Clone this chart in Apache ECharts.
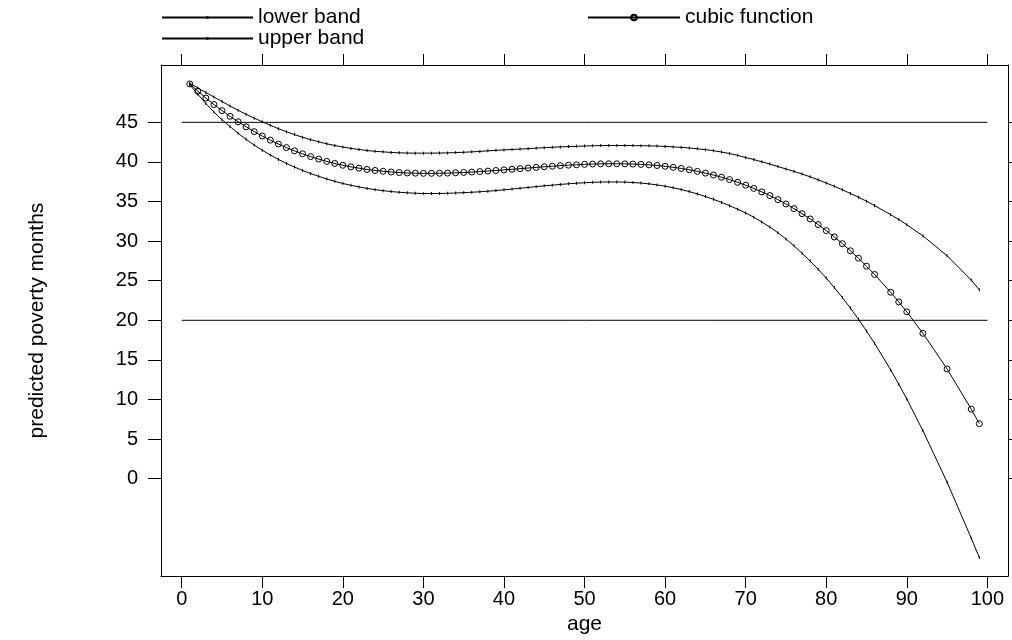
<!DOCTYPE html>
<html>
<head>
<meta charset="utf-8">
<script src="https://cdn.jsdelivr.net/npm/echarts@6/dist/echarts.min.js"></script>
<style>
html,body{margin:0;padding:0;background:#fff;}
#chart{width:1012px;height:640px;}
</style>
</head>
<body>
<div id="chart"></div>
<script>
// ---- data ----
var ages = [1,2,3,4,5,6,7,8,9,10,11,12,13,14,15,16,17,18,19,20,21,22,23,24,25,26,27,28,29,30,
  31,32,33,34,35,36,37,38,39,40,41,42,43,44,45,46,47,48,49,50,51,52,53,54,55,56,57,58,59,60,
  61,62,63,64,65,66,67,68,69,70,71,72,73,74,75,76,77,78,79,80,81,82,83,84,85,86,88,89,90,92,95,98,99];

var cubicFunction = [49.85,48.94,48.07,47.25,46.48,45.76,45.07,44.43,43.83,43.27,42.75,42.26,41.81,41.40,41.02,40.67,40.36,40.07,39.81,39.58,
  39.38,39.21,39.05,38.92,38.82,38.73,38.66,38.61,38.58,38.56,38.56,38.57,38.59,38.63,38.67,38.72,38.78,38.85,38.92,39.00,
  39.07,39.15,39.23,39.31,39.39,39.46,39.53,39.59,39.64,39.69,39.73,39.76,39.77,39.77,39.76,39.73,39.69,39.63,39.55,39.45,
  39.32,39.18,39.01,38.81,38.59,38.35,38.07,37.77,37.43,37.06,36.66,36.22,35.75,35.24,34.69,34.10,33.47,32.80,32.09,31.33,
  30.53,29.68,28.78,27.84,26.84,25.79,23.54,22.33,21.07,18.36,13.86,8.78,6.95];

var upperBand = [49.95,49.34,48.77,48.20,47.63,47.06,46.52,46.01,45.53,45.07,44.62,44.20,43.81,43.45,43.12,42.81,42.54,42.29,42.07,41.88,
  41.71,41.57,41.44,41.34,41.27,41.20,41.15,41.12,41.11,41.11,41.11,41.12,41.14,41.18,41.22,41.27,41.33,41.40,41.46,41.52,
  41.57,41.62,41.68,41.74,41.80,41.85,41.90,41.94,41.97,42.01,42.04,42.06,42.07,42.07,42.07,42.06,42.05,42.03,42.00,41.96,
  41.90,41.84,41.76,41.66,41.55,41.42,41.25,41.06,40.83,40.56,40.30,40.02,39.73,39.42,39.11,38.80,38.47,38.12,37.74,37.33,
  36.93,36.48,36.02,35.54,35.04,34.49,33.34,32.73,32.07,30.66,28.16,25.08,23.85];

var lowerBand = [49.75,48.54,47.37,46.30,45.33,44.46,43.62,42.85,42.13,41.47,40.88,40.32,39.81,39.35,38.92,38.53,38.18,37.85,37.55,37.28,
  37.05,36.85,36.66,36.50,36.37,36.26,36.17,36.10,36.05,36.01,36.01,36.02,36.04,36.08,36.12,36.17,36.23,36.30,36.38,36.48,
  36.57,36.68,36.78,36.88,36.98,37.07,37.16,37.24,37.31,37.37,37.42,37.46,37.47,37.47,37.45,37.40,37.33,37.23,37.10,36.94,
  36.74,36.52,36.26,35.96,35.63,35.28,34.89,34.48,34.03,33.56,33.02,32.42,31.77,31.06,30.27,29.40,28.47,27.48,26.44,25.33,
  24.13,22.88,21.54,20.14,18.64,17.09,13.74,11.93,10.07,6.06,-0.44,-7.52,-9.95];

var referenceLevels = [45, 20];
var referenceSpan = [0, 100];
var xTickValues = [0,10,20,30,40,50,60,70,80,90,100];
var yTickValues = [0,5,10,15,20,25,30,35,40,45];
var seriesNames = ['lower band', 'upper band', 'cubic function'];
var xTitle = 'age';
var yTitle = 'predicted poverty months';

// ---- chart ----
function pairs(xs, ys){ return xs.map(function(x,i){ return [x, ys[i]]; }); }

var FONT = "'Liberation Sans', Arial, sans-serif";
var X_MIN = -2.57, X_MAX = 102.56, Y_MIN = -12.3, Y_MAX = 52.24;
var ink = '#000';

var series = [
  { name: seriesNames[0], type: 'line', data: pairs(ages, lowerBand),
    symbol: 'rect', symbolSize: [1, 3], showAllSymbol: true,
    itemStyle: { color: ink }, lineStyle: { color: ink, width: 1 } },
  { name: seriesNames[1], type: 'line', data: pairs(ages, upperBand),
    symbol: 'rect', symbolSize: [1, 3], showAllSymbol: true,
    itemStyle: { color: ink }, lineStyle: { color: ink, width: 1 } },
  { name: seriesNames[2], type: 'line', data: pairs(ages, cubicFunction),
    symbol: 'circle', symbolSize: 6, showAllSymbol: true,
    itemStyle: { color: 'rgba(0,0,0,0)', borderColor: ink, borderWidth: 1 },
    lineStyle: { color: ink, width: 1 }, z: 3 }
];
referenceLevels.forEach(function(level, i){
  series.push({ name: 'ref' + i, type: 'line', symbol: 'none',
    data: referenceSpan.map(function(x){ return [x, level]; }),
    lineStyle: { color: ink, width: 1 }, z: 1 });
});

var chart = echarts.init(document.getElementById('chart'), null, { renderer: 'canvas' });
chart.setOption({
  animation: false,
  backgroundColor: '#fff',
  textStyle: { fontFamily: FONT, color: ink },
  grid: { left: 161, right: 4, top: 65, bottom: 61, containLabel: false },
  legend: [
    { data: [seriesNames[0], seriesNames[1]], orient: 'vertical', left: 161, top: 7, padding: 0,
      itemWidth: 91, itemHeight: 3, itemGap: 0, selectedMode: false,
      textStyle: { fontFamily: FONT, fontSize: 21, color: ink } },
    { data: [seriesNames[2]], orient: 'vertical', left: 587, top: 7, padding: 0,
      itemWidth: 92, itemHeight: 7, itemGap: 0, selectedMode: false,
      textStyle: { fontFamily: FONT, fontSize: 21, color: ink } }
  ],
  xAxis: [
    { type: 'value', position: 'bottom', min: X_MIN, max: X_MAX,
      name: xTitle, nameLocation: 'middle', nameGap: 25,
      nameTextStyle: { fontFamily: FONT, fontSize: 21, color: ink },
      axisLine: { show: true, onZero: false, lineStyle: { color: ink, width: 1 } },
      axisTick: { show: true, inside: false, length: 12, customValues: xTickValues, lineStyle: { color: ink } },
      axisLabel: { show: true, margin: 13, customValues: xTickValues, fontFamily: FONT, fontSize: 20, color: ink },
      splitLine: { show: false } },
    { type: 'value', position: 'top', min: X_MIN, max: X_MAX,
      axisLine: { show: true, onZero: false, lineStyle: { color: ink, width: 1 } },
      axisTick: { show: true, inside: false, length: 11, customValues: xTickValues, lineStyle: { color: ink } },
      axisLabel: { show: false },
      splitLine: { show: false } }
  ],
  yAxis: [
    { type: 'value', position: 'left', min: Y_MIN, max: Y_MAX,
      name: yTitle, nameLocation: 'middle', nameGap: 113,
      nameTextStyle: { fontFamily: FONT, fontSize: 21, color: ink },
      axisLine: { show: true, onZero: false, lineStyle: { color: ink, width: 1 } },
      axisTick: { show: true, inside: false, length: 13, customValues: yTickValues, lineStyle: { color: ink } },
      axisLabel: { show: true, margin: 23, customValues: yTickValues, fontFamily: FONT, fontSize: 20, color: ink },
      splitLine: { show: false } },
    { type: 'value', position: 'right', min: Y_MIN, max: Y_MAX,
      axisLine: { show: true, onZero: false, lineStyle: { color: ink, width: 1 } },
      axisTick: { show: true, inside: false, length: 8, customValues: yTickValues, lineStyle: { color: ink } },
      axisLabel: { show: false },
      splitLine: { show: false } }
  ],
  series: series
});
</script>
</body>
</html>
